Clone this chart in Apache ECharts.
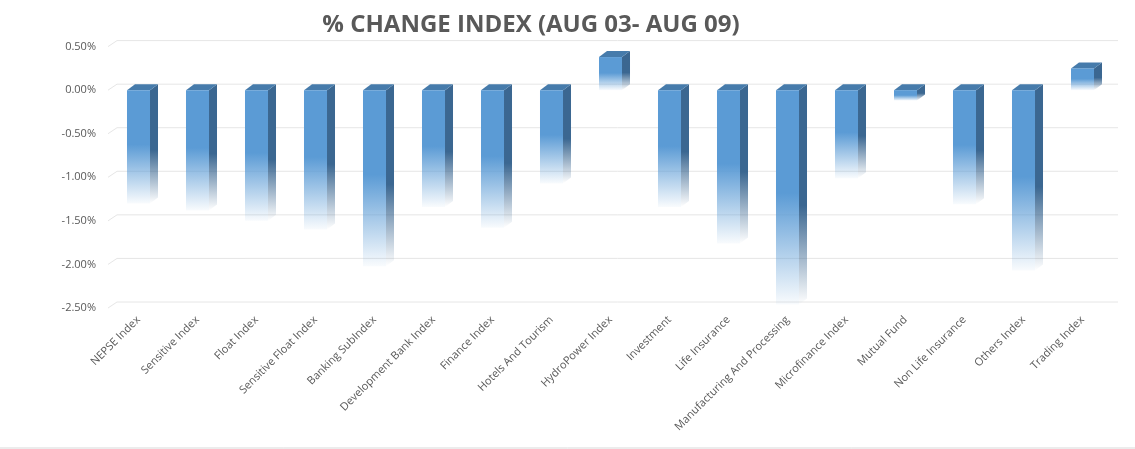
<!DOCTYPE html>
<html>
<head>
<meta charset="utf-8">
<title>% Change Index</title>
<script src="https://cdn.jsdelivr.net/npm/echarts@6/dist/echarts.min.js"></script>
<style>
  html, body { margin: 0; padding: 0; background: #fff; }
  #chart { width: 1135px; height: 449px; }
</style>
</head>
<body>
<div id="chart"></div>
<script>
// Chart data (values in percent)
const categories = [
  "NEPSE Index", "Sensitive Index", "Float Index", "Sensitive Float Index",
  "Banking SubIndex", "Development Bank Index", "Finance Index", "Hotels And Tourism",
  "HydroPower Index", "Investment", "Life Insurance", "Manufacturing And Processing",
  "Microfinance Index", "Mutual Fund", "Non Life Insurance", "Others Index", "Trading Index"
];
const changePct = [
  -1.30, -1.38, -1.50, -1.60,
  -2.02, -1.34, -1.58, -1.07,
  0.38, -1.34, -1.76, -2.46,
  -1.01, -0.12, -1.31, -2.07, 0.25
];
const yTicks = [0.5, 0, -0.5, -1.0, -1.5, -2.0, -2.5];

// 3D look: depth offset of the side / top faces
const DX = 8;
const DY = 6;

function renderGridLine(params, api) {
  const y = api.coord([0, api.value(1)])[1];
  const cs = params.coordSys;
  return {
    type: "polyline",
    shape: {
      points: [[cs.x - 1, y], [cs.x + DX, y - DY], [cs.x + cs.width + DX - 2, y - DY]]
    },
    style: { stroke: "#e6e6e6", lineWidth: 1, fill: null },
    silent: true
  };
}

function renderBar(params, api) {
  const idx = api.value(0);
  const base = api.coord([idx, 0]);
  const end = api.coord([idx, api.value(1)]);
  const w = api.size([1, 0])[0] * 0.39;
  const x = base[0] - w / 2;
  const yTop = Math.min(base[1], end[1]);
  const yBot = Math.max(base[1], end[1]);
  const h = yBot - yTop;

  const frontFill = new echarts.graphic.LinearGradient(0, 0, 0, 1, [
    { offset: 0, color: "#5b9bd5" },
    { offset: 0.48, color: "#5b9bd5" },
    { offset: 1, color: "rgba(91,155,213,0.04)" }
  ]);
  const sideFill = new echarts.graphic.LinearGradient(0, 0, 0, 1, [
    { offset: 0, color: "#3b6791" },
    { offset: 0.55, color: "#3b6791" },
    { offset: 1, color: "rgba(59,103,145,0.0)" }
  ]);

  return {
    type: "group",
    children: [
      {
        type: "polygon",
        shape: { points: [[x + w, yTop], [x + w + DX, yTop - DY], [x + w + DX, yBot - DY], [x + w, yBot]] },
        style: { fill: sideFill }
      },
      {
        type: "polygon",
        shape: { points: [[x, yTop], [x + DX, yTop - DY], [x + w + DX, yTop - DY], [x + w, yTop]] },
        style: { fill: "#467bab" }
      },
      {
        type: "rect",
        shape: { x: x, y: yTop, width: w, height: h },
        style: { fill: frontFill }
      }
    ]
  };
}

const chart = echarts.init(document.getElementById("chart"));

chart.setOption({
  animation: false,
  backgroundColor: "#ffffff",
  title: {
    text: "% CHANGE INDEX (AUG 03- AUG 09)",
    left: 526,
    top: 8,
    textAlign: "center",
    textStyle: {
      fontFamily: "Open Sans",
      fontSize: 24,
      fontWeight: "bold",
      color: "#595959"
    }
  },
  // thin frame line along the bottom edge
  graphic: [
    {
      type: "line",
      shape: { x1: 0, y1: 448, x2: 1135, y2: 448 },
      style: { stroke: "#d9d9d9", lineWidth: 1 },
      silent: true
    }
  ],
  grid: {
    left: 109,
    right: 23,
    top: 46.6,
    bottom: 141
  },
  xAxis: {
    type: "category",
    data: categories,
    axisLine: { show: false },
    axisTick: { show: false },
    axisLabel: {
      interval: 0,
      rotate: 45,
      margin: 10,
      fontFamily: "Open Sans",
      fontSize: 11,
      color: "#595959"
    }
  },
  yAxis: {
    type: "value",
    min: -2.5,
    max: 0.5,
    interval: 0.5,
    axisLine: { show: false },
    axisTick: { show: false },
    splitLine: { show: false },
    axisLabel: {
      margin: 13,
      fontFamily: "Open Sans",
      fontSize: 11,
      color: "#595959",
      formatter: function (v) { return v.toFixed(2) + "%"; }
    }
  },
  series: [
    {
      type: "custom",
      name: "grid",
      renderItem: renderGridLine,
      data: yTicks.map(function (t) { return [0, t]; }),
      silent: true,
      clip: false,
      z: 1
    },
    {
      type: "custom",
      name: "% change",
      renderItem: renderBar,
      data: changePct.map(function (v, i) { return [i, v]; }),
      clip: false,
      z: 2
    }
  ]
});
</script>
</body>
</html>
